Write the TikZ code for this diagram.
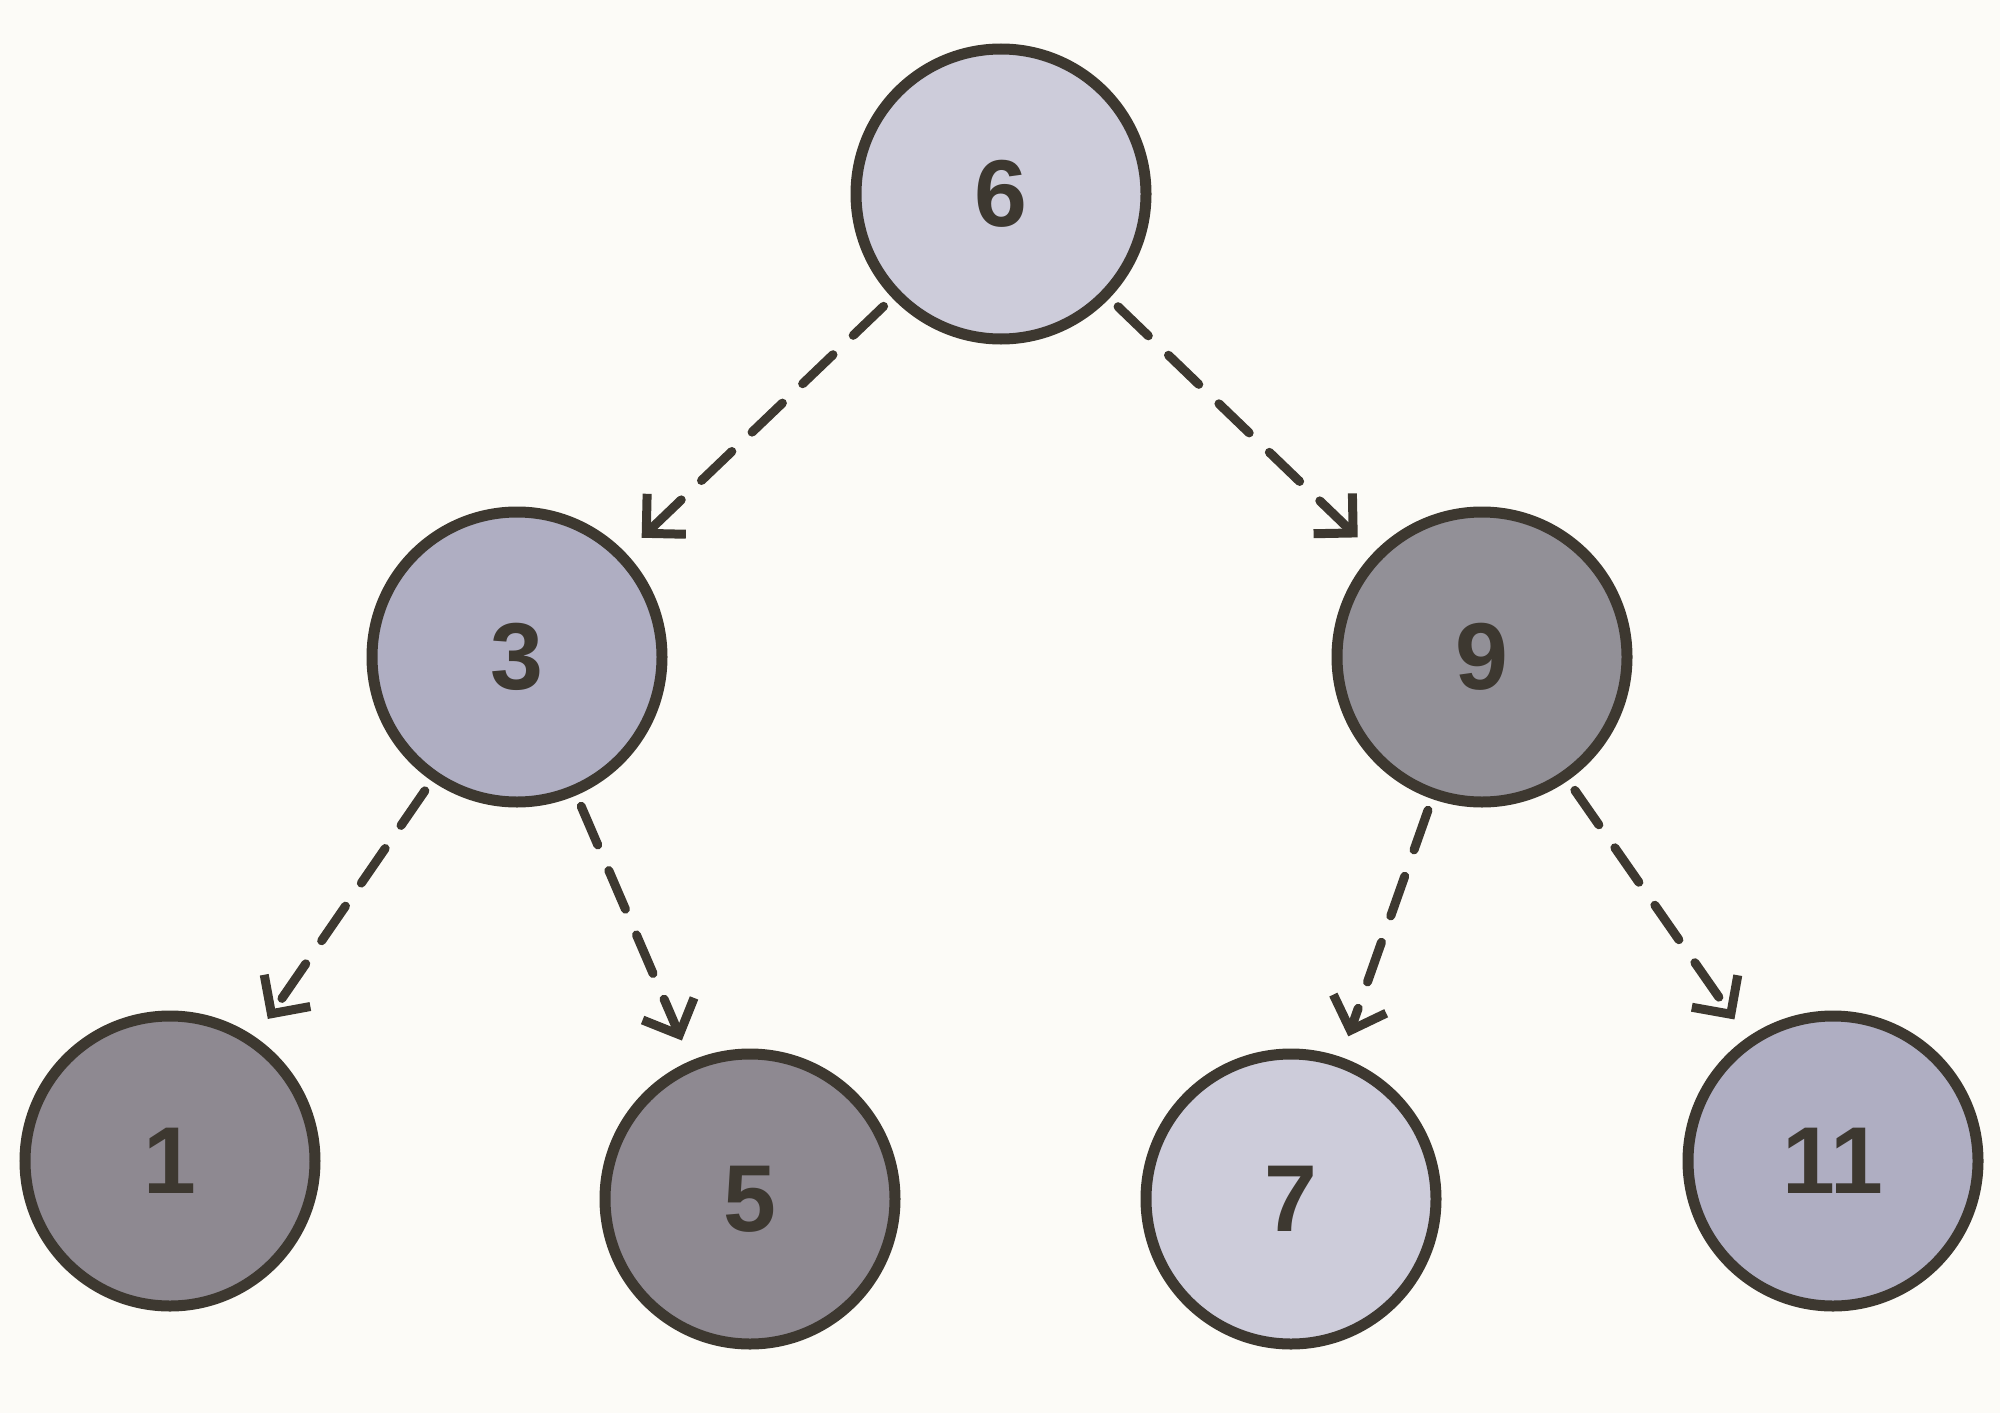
\documentclass[tikz,border=0pt]{standalone}
\usepackage{fontspec}
\setmainfont{Liberation Sans}
\usetikzlibrary{arrows.meta}
\definecolor{bg}{HTML}{FCFBF7}
\definecolor{ink}{HTML}{3D3830}
\definecolor{cA}{HTML}{CDCCDA}
\definecolor{cB}{HTML}{AFAEC2}
\definecolor{cC}{HTML}{929097}
\definecolor{cD}{HTML}{8E8991}
\tikzset{
 nd/.style={circle,draw=ink,line width=11pt,minimum size=290pt,inner sep=0pt,text=ink,font=\fontsize{95}{100}\selectfont\bfseries},
 ed/.style={draw=ink,line width=9pt,dash pattern=on 42pt off 28pt,line cap=round,
   -{Straight Barb[length=28pt,width=56pt,line width=9pt]},shorten <=12pt,shorten >=22pt}
}
\begin{document}
\begin{tikzpicture}[x=1pt,y=-1pt]
\fill[bg] (0,0) rectangle (2000,1413);
\useasboundingbox (0,0) rectangle (2000,1413);
\node[nd,fill=cA] (n6) at (1001,194) {6};
\node[nd,fill=cB] (n3) at (517,657) {3};
\node[nd,fill=cC] (n9) at (1482,657) {9};
\node[nd,fill=cD] (n1) at (170,1161) {1};
\node[nd,fill=cD] (n5) at (750,1199) {5};
\node[nd,fill=cA] (n7) at (1291,1199) {7};
\node[nd,fill=cB] (n11) at (1833,1161) {11};
\draw[ed] (n6) -- (n3);
\draw[ed] (n6) -- (n9);
\draw[ed] (n3) -- (n1);
\draw[ed] (n3) -- (n5);
\draw[ed] (n9) -- (n7);
\draw[ed] (n9) -- (n11);
\end{tikzpicture}
\end{document}
